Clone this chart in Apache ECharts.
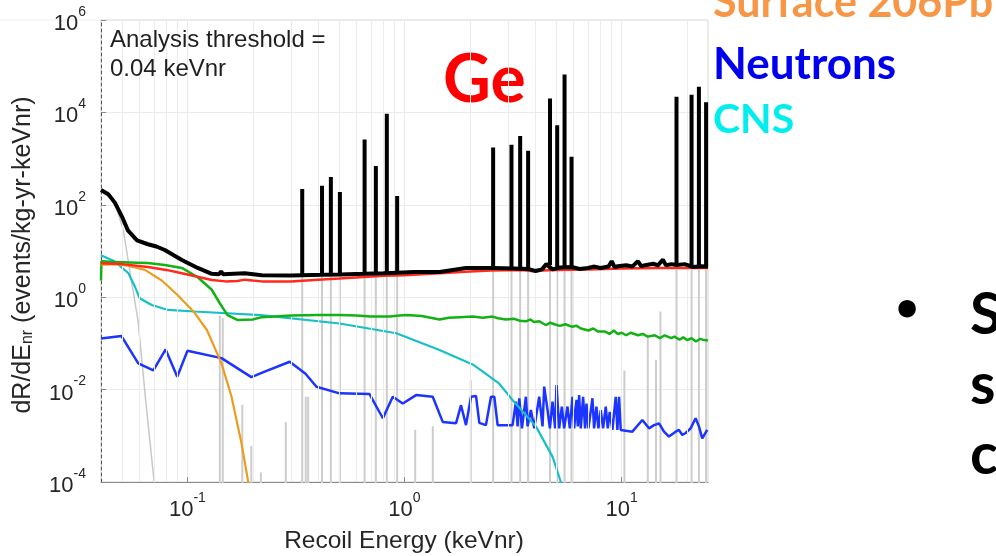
<!DOCTYPE html>
<html>
<head>
<meta charset="utf-8">
<script src="https://cdn.jsdelivr.net/npm/echarts@6/dist/echarts.min.js"></script>
<style>
html,body{margin:0;padding:0;background:#fff;}
#chart{width:996px;height:556px;}
</style>
</head>
<body>
<div id="chart"></div>
<script>
// ---------------- data ----------------
const xMinorGrid = [0.05,0.06,0.07,0.08,0.09,0.2,0.3,0.4,0.5,0.6,0.7,0.8,0.9,2,3,4,5,6,7,8,9,20];
const yTickExponents = [-4,-2,0,2,4,6];

// total background (black), continuum part [E keVnr, rate]
const totalContinuum = [
  [0.04,210],[0.0432,170],[0.0464,110],[0.050,55],[0.0532,28],[0.0586,17],[0.0658,14],[0.072,12.5],
  [0.0787,10.5],[0.0943,6.4],[0.1116,4.3],[0.1295,3.2],[0.140,3.15],[0.143,3.6],[0.146,3.15],
  [0.1835,3.3],[0.22,3.0],[0.30,2.95],[0.338,3.0],[0.417,3.05],[0.504,3.1],[0.655,3.2],[0.80,3.3],
  [0.925,3.4],[1.1,3.5],[1.45,3.5],[1.92,4.3],[2.54,4.3],[3.2,4.2],[3.7,4.1],[4.0,3.7],[4.3,4.0],
  [4.5,5.2],[4.8,4.0],[5.2,4.4],[5.9,4.5],[6.4,4.1],[7.0,4.3],[7.5,4.6],[8.0,4.3],[8.7,4.6],[9.0,6.0],
  [9.3,4.4],[9.6,4.7],[10.5,4.9],[11.2,4.6],[11.6,5.4],[11.9,6.0],[12.3,4.7],[13.0,5.0],[14.0,5.3],
  [14.7,4.9],[15.5,6.5],[16.0,4.9],[17.0,5.2],[17.9,5.0],[19.5,5.2],[21.4,4.5],[23.0,4.7],[25,4.6]
];
// activation lines in the total: [E, base rate, peak rate]
const totalLines = [
  [0.338,3.0,220],[0.417,3.05,260],[0.458,3.05,400],[0.504,3.1,190],[0.655,3.2,2600],[0.738,3.25,690],
  [0.829,3.3,9300],[0.925,3.4,155],[2.56,4.3,1740],[3.11,4.2,2000],[3.41,4.2,3100],[3.71,4.1,1480],
  [4.68,5.0,20000],[5.05,4.1,5240],[5.46,4.4,66000],[5.88,4.5,1100],[17.9,5.0,21900],[21.0,4.7,24000],
  [22.7,4.7,36000],[24.5,4.6,16600]
];
const redSeries = [
  [0.04,5.4],[0.05,5.2],[0.0658,4.5],[0.08,3.9],[0.0943,3.3],[0.11,2.8],[0.1295,2.35],[0.15,2.2],
  [0.17,2.25],[0.1835,2.4],[0.2,2.3],[0.22,2.2],[0.30,2.2],[0.40,2.4],[0.50,2.55],[0.65,2.75],[0.80,2.9],
  [1.0,3.0],[1.45,3.3],[2.0,3.6],[2.5,3.8],[3.5,3.9],[4.0,3.6],[4.3,3.8],[5,3.9],[7,4.0],[10,4.2],[15,4.3],[25,4.3]
];
const greenSeries = [
  [0.04,2.3],[0.0402,6.0],[0.0464,5.8],[0.0586,5.6],[0.0658,5.5],[0.0787,5.0],[0.0943,4.3],[0.1116,2.7],
  [0.1295,1.45],[0.141,0.74],[0.153,0.41],[0.1706,0.32],[0.20,0.33],[0.22,0.37],[0.30,0.40],[0.40,0.41],
  [0.50,0.41],[0.60,0.40],[0.70,0.38],[0.853,0.38],[0.95,0.40],[1.02,0.41],[1.2,0.39],[1.45,0.33],[1.6,0.36],
  [1.8,0.37],[2.06,0.38],[2.3,0.36],[2.54,0.38],[2.7,0.35],[2.93,0.33],[3.2,0.34],[3.4,0.31],[3.63,0.30],
  [3.8,0.33],[3.95,0.29],[4.18,0.30],[4.35,0.27],[4.48,0.25],[4.7,0.28],[4.9,0.26],[5.2,0.24],[5.5,0.26],
  [5.9,0.23],[6.2,0.24],[6.5,0.21],[7.04,0.19],[7.4,0.21],[7.8,0.18],[8.4,0.18],[8.8,0.16],[9.2,0.19],
  [9.6,0.16],[10.0,0.17],[10.5,0.15],[11.0,0.17],[11.9,0.15],[12.5,0.16],[13.2,0.14],[14.2,0.15],[15.0,0.13],
  [15.8,0.15],[16.9,0.13],[17.5,0.14],[18.5,0.12],[19.2,0.135],[20.1,0.118],[21,0.13],[22,0.11],[23,0.125],
  [24,0.118],[25,0.115]
];
const surfacePb = [
  [0.04,5.0],[0.046,5.2],[0.0532,4.8],[0.0637,3.9],[0.0762,2.3],[0.0903,1.1],[0.108,0.46],[0.123,0.195],
  [0.129,0.117],[0.1436,0.037],[0.1596,0.0071],[0.1775,0.00069],[0.190,0.00011],[0.195,0.00005]
];
const cnsSeries = [
  [0.04,8.1],[0.0464,5.9],[0.0535,3.3],[0.0573,1.7],[0.0603,0.95],[0.0685,0.68],[0.0815,0.53],[0.108,0.49],
  [0.218,0.41],[0.502,0.27],[0.917,0.166],[1.45,0.072],[2.06,0.035],[2.28,0.025],[2.73,0.0135],[3.15,0.0059],
  [4.03,0.0016],[4.81,0.00035],[5.25,0.0001],[5.4,0.00006]
];
const neutronSeries = [
  [0.04,0.128],[0.0497,0.144],[0.0594,0.037],[0.0697,0.026],[0.0794,0.074],[0.0898,0.019],[0.100,0.069],
  [0.1436,0.048],[0.197,0.0186],[0.227,0.0245],[0.296,0.040],[0.35,0.022],[0.393,0.0115],[0.502,0.0083],
  [0.690,0.0080],[0.795,0.0024],[0.883,0.0070],[0.982,0.0050],[1.131,0.0076],[1.349,0.0070],[1.500,0.0020],
  [1.727,0.00186],[1.821,0.0046],[1.920,0.0017],[2.025,0.0070],[2.135,0.0073],[2.211,0.0019],[2.372,0.0017],
  [2.502,0.0070],[2.592,0.0070],[2.685,0.0017],[3.147,0.0017],[3.261,0.0055],[3.318,0.0016],[3.378,0.0065],
  [3.474,0.00145],[3.624,0.0070],[3.689,0.0016],[3.821,0.0036],[3.959,0.00145],[4.173,0.0070],[4.323,0.0016],
  [4.400,0.0116],[4.559,0.0036],[4.673,0.00145],[4.806,0.0055],[4.943,0.00145],[5.013,0.0126],[5.157,0.00145],
  [5.305,0.0043],[5.437,0.00145],[5.633,0.0043],[5.773,0.00145],[5.940,0.0070],[6.046,0.00145],[6.197,0.0060],
  [6.284,0.0016],[6.373,0.0076],[6.486,0.00145],[6.648,0.0070],[6.790,0.00145],[6.888,0.0050],[7.035,0.00145],
  [7.340,0.0065],[7.470,0.00145],[7.656,0.0043],[7.820,0.00145],[8.017,0.0036],[8.217,0.00145],[8.453,0.0043],
  [8.632,0.00145],[8.817,0.0033],[9.071,0.00134],[9.396,0.0070],[9.563,0.00134],[9.734,0.0070],[9.906,0.00134],
  [10.08,0.00123],[11.21,0.00123],[12.46,0.0022],[13.37,0.00145],[14.10,0.0017],[14.87,0.00186],[15.68,0.00123],
  [16.52,0.00096],[17.74,0.00123],[18.37,0.00134],[19.03,0.00104],[19.72,0.00115],[20.79,0.00145],[21.92,0.0024],
  [22.71,0.0016],[23.52,0.00088],[24.80,0.00134]
];
// light grey component: steep low-energy curve
const greyCurve = [
  [0.04,210],[0.0464,110],[0.0507,28],[0.0545,3.3],[0.0593,0.3],[0.0643,0.0056],[0.0703,0.0001],[0.072,0.00004]
];
// light grey component: lines [E, top rate]
const greyLines = [
  [0.141,0.4],[0.1455,0.35],[0.179,0.0047],[0.197,0.0006],[0.218,0.00016],[0.284,0.002],[0.338,3],[0.351,0.007],
  [0.36,0.007],[0.417,3],[0.458,3],[0.504,3],[0.655,3],[0.738,3],[0.829,3],[0.925,3],[1.12,0.00135],[1.35,0.0016],
  [2.02,0.016],[2.56,4],[3.11,4],[3.41,4],[3.71,4],[4.68,4],[5.05,4],[5.46,4],[5.88,4],[10.3,0.026],[13.2,0.15],
  [14.4,0.044],[15.1,0.49],[17.9,4],[21.0,4],[22.7,4],[24.5,4]
];

// ---------------- chart ----------------
const FONT = 'Liberation Sans, Arial, sans-serif';
const chart = echarts.init(document.getElementById('chart'), null, {renderer:'canvas'});

const floorRate = 1e-6;
const greyLineData = [];
greyLines.forEach(([e, top]) => { greyLineData.push([e, floorRate], [e, top], [e, null]); });
const totalLineData = [];
totalLines.forEach(([e, b, p]) => { totalLineData.push([e, b], [e, p], [e, null]); });

const supRich = {
  b: {fontSize: 22, fontFamily: FONT, color: '#262626', lineHeight: 30, verticalAlign: 'bottom'},
  s: {fontSize: 14, fontFamily: FONT, color: '#262626', lineHeight: 14, verticalAlign: 'top'}
};
function isPow10(v){ const l = Math.log10(v); return Math.abs(l - Math.round(l)) < 1e-6; }

function lineSeries(name, data, color, width, z){
  return {name, type:'line', data, showSymbol:false, symbol:'none', z, xAxisIndex:0, yAxisIndex:0,
    lineStyle:{color, width}, itemStyle:{color}, connectNulls:false, clip:true, smooth:false};
}

const option = {
  animation:false,
  backgroundColor:'#ffffff',
  grid:{left:101, right:288, top:20, bottom:74, show:true, borderColor:'#d6d6d6', borderWidth:1, backgroundColor:'#fff'},
  xAxis:[{
    type:'log', logBase:10, min:0.04, max:25,
    axisLine:{show:true, onZero:false, lineStyle:{color:'#8a8a8a', width:1}},
    axisTick:{show:true, inside:true, length:5, lineStyle:{color:'#8a8a8a'}},
    axisLabel:{margin:9, showMinLabel:false, showMaxLabel:false,
      formatter:v => isPow10(v) ? '{b|10}{s|' + Math.round(Math.log10(v)) + '}' : '', rich:supRich},
    splitLine:{show:true, lineStyle:{color:'#ebebeb', width:1}}
  }],
  yAxis:[
    {type:'log', logBase:10, min:1e-4, max:1e6, show:false},
    {type:'value', min:-4, max:6, interval:2, position:'left',
      axisLine:{show:true, onZero:false, lineStyle:{color:'#555', width:1, type:[3,3]}},
      axisTick:{show:true, inside:true, length:5, lineStyle:{color:'#888'}},
      axisLabel:{margin:15, formatter:v => '{b|10}{s|' + v + '}', rich:supRich},
      splitLine:{show:true, lineStyle:{color:'#ebebeb', width:1}}
    }
  ],
  series:[
    {type:'line', yAxisIndex:1, data:[], silent:true},
    Object.assign(lineSeries('grey lines', greyLineData, '#cdcdcd', 2, 1), {
      markLine:{silent:true, symbol:'none', label:{show:false}, animation:false,
        lineStyle:{color:'#ececec', width:1, type:'solid'},
        data: xMinorGrid.map(v => ({xAxis:v}))}
    }),
    lineSeries('grey curve', greyCurve, '#c8c8c8', 1.5, 2),
    lineSeries('Neutrons', neutronSeries, '#1c34ff', 2.5, 3),
    lineSeries('CNS', cnsSeries, '#16c0c6', 2.2, 4),
    lineSeries('green', greenSeries, '#14b014', 2.5, 5),
    lineSeries('Surface 206Pb', surfacePb, '#eb9d1f', 2.2, 6),
    lineSeries('red', redSeries, '#ff2a1c', 2.5, 7),
    lineSeries('total lines', totalLineData, '#000000', 4, 8),
    lineSeries('total', totalContinuum, '#000000', 4, 9)
  ],
  graphic:[
    {type:'line', shape:{x1:0, y1:20, x2:101, y2:20}, style:{stroke:'#ededed', lineWidth:1}, silent:true},
    {type:'text', x:110, y:55, z:100, style:{text:'Analysis threshold =\n0.04 keVnr', font:'24px ' + FONT, fill:'#1f1f1f', lineHeight:29, align:'left', verticalAlign:'middle'}},
    {type:'text', x:404, y:541, style:{text:'Recoil Energy (keVnr)', font:'24.5px ' + FONT, fill:'#262626', align:'center', verticalAlign:'middle'}},
    {type:'text', x:21, y:255, rotation:Math.PI/2,
      style:{text:'{a|dR/dE}{n|nr}{a| (events/kg-yr-keVnr)}', align:'center', verticalAlign:'middle',
        rich:{a:{fontSize:25, fontFamily:FONT, fill:'#262626', color:'#262626', lineHeight:30, verticalAlign:'bottom'},
              n:{fontSize:16, fontFamily:FONT, fill:'#262626', color:'#262626', lineHeight:16, verticalAlign:'bottom'}}}},
    {type:'text', x:443, y:81, style:{text:'Ge', font:'bold 66px Lato', fill:'#ff0000', align:'left', verticalAlign:'middle'}},
    {type:'text', x:713, y:3, style:{text:'Surface 206Pb', font:'bold 43px Lato', fill:'#f79646', align:'left', verticalAlign:'middle'}},
    {type:'text', x:713, y:65, style:{text:'Neutrons', font:'bold 44px Lato', fill:'#0000ee', align:'left', verticalAlign:'middle'}},
    {type:'text', x:713, y:120, style:{text:'CNS', font:'bold 41px Lato', fill:'#00eeee', align:'left', verticalAlign:'middle'}},
    {type:'text', x:907, y:308, style:{text:'•', font:'bold 40px Lato', fill:'#000', align:'center', verticalAlign:'middle'}},
    {type:'text', x:970, y:315, style:{text:'S', font:'bold 58px Lato', fill:'#000', align:'left', verticalAlign:'middle'}},
    {type:'text', x:970, y:385, style:{text:'s', font:'bold 58px Lato', fill:'#000', align:'left', verticalAlign:'middle'}},
    {type:'text', x:970, y:455, style:{text:'c', font:'bold 58px Lato', fill:'#000', align:'left', verticalAlign:'middle'}}
  ]
};
chart.setOption(option);
</script>
</body>
</html>
